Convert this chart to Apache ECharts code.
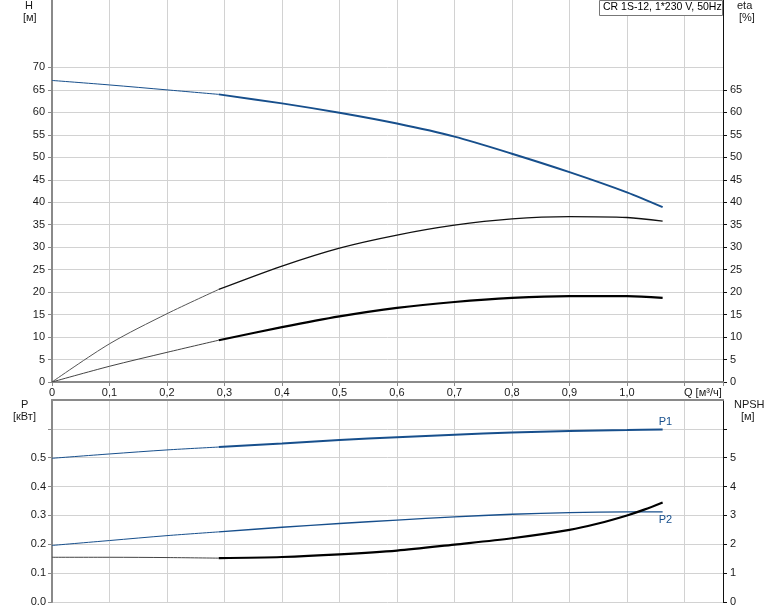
<!DOCTYPE html>
<html><head><meta charset="utf-8">
<script src="https://cdn.jsdelivr.net/npm/echarts@6/dist/echarts.min.js"></script>
<style>html,body{margin:0;padding:0;background:#fff}#c{width:774px;height:611px}</style>
</head><body><div id="c"></div>
<script>
// ---- data ----
const flowQ    = [0, 0.1, 0.2, 0.29, 0.4, 0.5, 0.6, 0.7, 0.8, 0.9, 1.0, 1.062];
const headH    = [67.1, 66.1, 65.0, 64.0, 62.0, 59.9, 57.5, 54.6, 50.8, 46.7, 42.2, 38.9];
const etaPump  = [0, 8.5, 15.2, 20.6, 25.8, 29.8, 32.7, 34.9, 36.3, 36.8, 36.6, 35.8];
const etaTotal = [0, 3.5, 6.6, 9.3, 12.2, 14.6, 16.5, 17.8, 18.7, 19.1, 19.1, 18.7];
const powerP1  = [0.498, 0.513, 0.527, 0.537, 0.549, 0.561, 0.571, 0.580, 0.587, 0.593, 0.596, 0.598];
const powerP2  = [0.196, 0.213, 0.230, 0.243, 0.259, 0.272, 0.284, 0.295, 0.304, 0.310, 0.312, 0.3125];
const npshQ    = [0, 0.1, 0.2, 0.29, 0.4, 0.5, 0.6, 0.7, 0.8, 0.9, 0.95, 1.0, 1.03, 1.062];
const npshM    = [1.55, 1.55, 1.54, 1.52, 1.56, 1.65, 1.78, 1.99, 2.21, 2.50, 2.72, 3.0, 3.2, 3.45];
const dutyStart = 0.29; // thin line below, thick line above

const qTickLabels = ['0','0,1','0,2','0,3','0,4','0,5','0,6','0,7','0,8','0,9','1,0'];
const hTicks   = [0,5,10,15,20,25,30,35,40,45,50,55,60,65,70];
const etaTicks = [0,5,10,15,20,25,30,35,40,45,50,55,60,65];
const pTicks   = [0,0.1,0.2,0.3,0.4,0.5,0.6];
const pLabels  = [0,0.1,0.2,0.3,0.4,0.5];
const npshTicks = [0,1,2,3,4,5,6];
const npshLabels = [0,1,2,3,4,5];
const title = 'CR 1S-12, 1*230 V, 50Hz';

function part(qs, vs, thick) {
  const out = [];
  qs.forEach((q, i) => {
    if (thick ? q >= dutyStart - 1e-9 : q <= dutyStart + 1e-9) out.push([q, vs[i]]);
  });
  return out;
}

const FONT = 'Liberation Sans, Arial, sans-serif';
const TXT = '#1a1a1a';
const BLUE = '#174f8c';
const GRID = '#d2d2d2';
const AXGRAY = '#8a8a8a';

const chart = echarts.init(document.getElementById('c'), null, {renderer: 'canvas'});

const xBase = {
  type: 'value', min: 0, max: 1.167, interval: 0.1,
  splitLine: {show: true, lineStyle: {color: GRID, width: 1}},
};

function lineSeries(name, data, xi, yi, color, width, extra) {
  return Object.assign({
    name, type: 'line', data, xAxisIndex: xi, yAxisIndex: yi,
    smooth: 0.3, showSymbol: false, symbol: 'none', silent: true,
    lineStyle: {color, width}, z: 5
  }, extra || {});
}

const option = {
  animation: false,
  backgroundColor: '#fff',
  textStyle: {fontFamily: FONT},
  grid: [
    {left: 52, top: 0, width: 671, height: 382},
    {left: 52, top: 400, width: 671, height: 202}
  ],
  xAxis: [
    Object.assign({}, xBase, {
      gridIndex: 0, position: 'bottom',
      axisLine: {show: true, onZero: false, lineStyle: {color: AXGRAY, width: 2}},
      axisTick: {show: true, length: 4, lineStyle: {color: AXGRAY}},
      axisLabel: {
        margin: 5, color: TXT, fontSize: 11, fontFamily: FONT,
        showMaxLabel: true,
        formatter: v => {
          const i = Math.round(v * 10);
          if (Math.abs(v - i / 10) > 1e-6) return '';
          return i < qTickLabels.length ? qTickLabels[i] : '';
        }
      }
    }),
    Object.assign({}, xBase, {
      gridIndex: 1, position: 'top',
      axisLine: {show: true, onZero: false, lineStyle: {color: AXGRAY, width: 2}},
      axisTick: {show: false},
      axisLabel: {show: false}
    })
  ],
  yAxis: [
    {
      type: 'value', gridIndex: 0, min: 0, max: 85, interval: 5, position: 'left',
      axisLine: {show: true, lineStyle: {color: AXGRAY, width: 2}},
      axisTick: {show: true, length: 4, customValues: hTicks, lineStyle: {color: AXGRAY}},
      axisLabel: {margin: 7, color: TXT, fontSize: 11, fontFamily: FONT, customValues: hTicks,
                  formatter: v => String(v)},
      splitLine: {show: true, lineStyle: {color: GRID, width: 1}}
    },
    {
      type: 'value', gridIndex: 0, min: 0, max: 85, interval: 5, position: 'right',
      axisLine: {show: true, lineStyle: {color: '#111', width: 1}},
      axisTick: {show: true, length: 4, customValues: etaTicks, lineStyle: {color: '#111'}},
      axisLabel: {margin: 7, color: TXT, fontSize: 11, fontFamily: FONT, customValues: etaTicks,
                  formatter: v => String(v)},
      splitLine: {show: false}
    },
    {
      type: 'value', gridIndex: 1, min: 0, max: 0.7, interval: 0.1, position: 'left',
      axisLine: {show: true, lineStyle: {color: AXGRAY, width: 2}},
      axisTick: {show: true, length: 4, customValues: pTicks, lineStyle: {color: AXGRAY}},
      axisLabel: {margin: 6, color: TXT, fontSize: 11, fontFamily: FONT, customValues: pLabels,
                  formatter: v => v.toFixed(1)},
      splitLine: {show: true, lineStyle: {color: GRID, width: 1}}
    },
    {
      type: 'value', gridIndex: 1, min: 0, max: 7, interval: 1, position: 'right',
      axisLine: {show: true, lineStyle: {color: '#111', width: 1}},
      axisTick: {show: true, length: 4, customValues: npshTicks, lineStyle: {color: '#111'}},
      axisLabel: {margin: 7, color: TXT, fontSize: 11, fontFamily: FONT, customValues: npshLabels,
                  formatter: v => String(v)},
      splitLine: {show: false}
    }
  ],
  series: [
    lineSeries('H thin', part(flowQ, headH, false), 0, 0, BLUE, 1),
    lineSeries('H', part(flowQ, headH, true), 0, 0, BLUE, 2),
    lineSeries('eta thin', part(flowQ, etaPump, false), 0, 1, '#555', 1),
    lineSeries('eta', part(flowQ, etaPump, true), 0, 1, '#111', 1.3),
    lineSeries('eta tot thin', part(flowQ, etaTotal, false), 0, 1, '#444', 1),
    lineSeries('eta tot', part(flowQ, etaTotal, true), 0, 1, '#000', 2.2),
    lineSeries('P1 thin', part(flowQ, powerP1, false), 1, 2, BLUE, 1),
    lineSeries('P1', part(flowQ, powerP1, true), 1, 2, BLUE, 2, {
      endLabel: {show: true, formatter: 'P1', color: BLUE, fontSize: 11, fontFamily: FONT, offset: [-12, -7]}
    }),
    lineSeries('P2 thin', part(flowQ, powerP2, false), 1, 2, BLUE, 1),
    lineSeries('P2', part(flowQ, powerP2, true), 1, 2, BLUE, 1.3, {
      endLabel: {show: true, formatter: 'P2', color: BLUE, fontSize: 11, fontFamily: FONT, offset: [-12, 8]}
    }),
    lineSeries('NPSH thin', part(npshQ, npshM, false), 1, 3, '#444', 1),
    lineSeries('NPSH', part(npshQ, npshM, true), 1, 3, '#000', 2.2)
  ],
  graphic: [
    {type: 'text', left: 25, top: 0, style: {text: 'H', font: '11px ' + FONT, fill: TXT}},
    {type: 'text', left: 23, top: 12, style: {text: '[м]', font: '11px ' + FONT, fill: TXT}},
    {type: 'text', left: 737, top: 0, style: {text: 'eta', font: '11px ' + FONT, fill: TXT}},
    {type: 'text', left: 739, top: 12, style: {text: '[%]', font: '11px ' + FONT, fill: TXT}},
    {type: 'text', left: 21, top: 399, style: {text: 'P', font: '11px ' + FONT, fill: TXT}},
    {type: 'text', left: 13, top: 411, style: {text: '[кВт]', font: '11px ' + FONT, fill: TXT}},
    {type: 'text', left: 734, top: 399, style: {text: 'NPSH', font: '11px ' + FONT, fill: TXT}},
    {type: 'text', left: 741, top: 411, style: {text: '[м]', font: '11px ' + FONT, fill: TXT}},
    {type: 'text', left: 684, top: 387, style: {text: 'Q [м³/ч]', font: '11px ' + FONT, fill: TXT}},
    {type: 'rect', shape: {x: 599.5, y: 0.5, width: 123, height: 15}, style: {fill: '#fff', stroke: '#777', lineWidth: 1}, z: 100},
    {type: 'text', left: 603, top: 2, z: 101, style: {text: title, font: '10.5px ' + FONT, fill: '#000'}}
  ]
};
chart.setOption(option);
</script>
</body></html>
